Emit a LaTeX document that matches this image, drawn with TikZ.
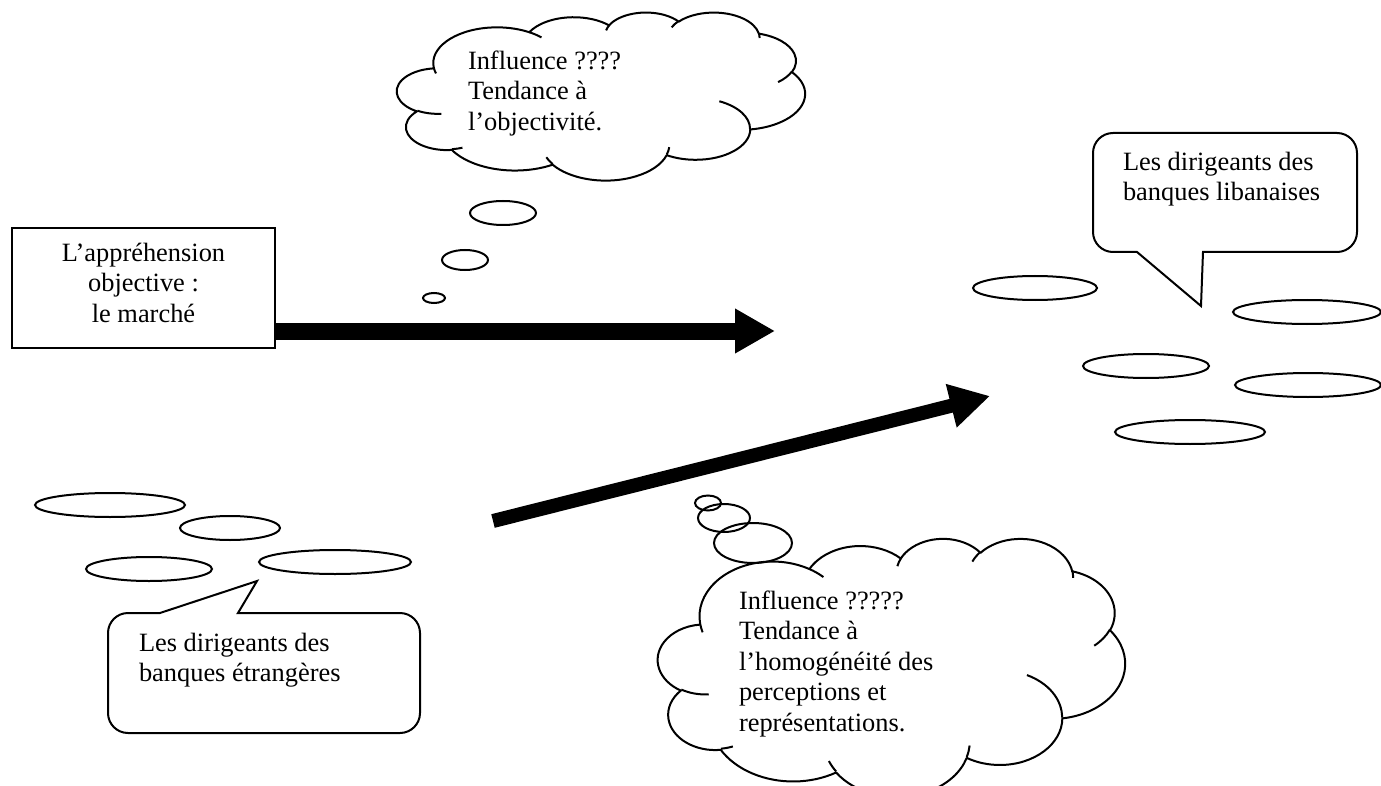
\documentclass[tikz,border=0pt]{standalone}
\usepackage{fontspec}
\setmainfont{Liberation Serif}
\usetikzlibrary{arrows.meta}

\tikzset{
  txt/.style={align=left,inner sep=0pt,anchor=north west},
  bigarrow/.style={line width=8.5pt,-{Triangle[length=20pt,width=21pt]}},
}

% cloud outline in a 43.2 x 43.2 frame, arcs given as (x radius, y radius, start, sweep)
\newcommand\cloudpath{%
  \draw[line join=round] (3.9,14.37)
    \foreach \a/\b/\s/\w [evaluate={\s as \ts using atan2(\a*sin(\s),\b*cos(\s))},
                          evaluate={\w as \te using atan2(\a*sin(\s+\w),\b*cos(\s+\w))},
                          evaluate={\w as \dt using mod(\te-\ts+720,360)}]
    in {6.753/9.19/-190.4875/123.7805, 5.333/7.267/-144.1024/89.9452,
        4.365/5.945/-145.8079/99.723, 4.857/6.595/-130.9861/117.2417,
        5.333/7.273/-78.7089/109.0269, 6.775/9.22/-46.2673/130.269,
        5.785/7.867/0.625/114.0333, 6.752/9.215/22.4516/115.1726,
        7.72/10.543/66.2426/75.711, 4.36/5.918/-274.9421/146.7356,
        4.345/5.945/-246.8285/152.5189}
    {arc[x radius=\a,y radius=\b,start angle=\ts,delta angle=\dt]} -- cycle;
  \foreach \x/\y/\a/\b/\s/\w [evaluate={\s as \ts using atan2(\a*sin(\s),\b*cos(\s))},
                              evaluate={\w as \te using atan2(\a*sin(\s+\w),\b*cos(\s+\w))},
                              evaluate={\w as \dt using mod(\te-\ts+720,360)}]
    in {4.693/26.177/4.345/5.945/86.742/26.4295, 6.928/34.899/4.36/5.918/73.6105/11.4475,
        16.478/39.09/6.752/9.215/137.6242/14.0811, 28.827/34.751/6.752/9.215/6.4533/15.9984,
        34.129/22.954/5.785/7.867/-70.2924/70.9174, 41.798/15.354/5.333/7.273/30.318/27.7515,
        38.324/5.426/4.857/6.595/-13.7443/14.8589, 29.078/3.952/4.857/6.595/-149.1815/18.1954,
        22.141/4.72/4.365/5.945/-163.4943/17.6864, 14/5.192/6.753/9.19/-66.707/12.3194,
        4.127/15.789/6.753/9.19/157.6544/11.8582}
    \draw (\x,\y) arc[x radius=\a,y radius=\b,start angle=\ts,delta angle=\dt];
}

\begin{document}
\begin{tikzpicture}[x=0.5pt,y=-0.5pt,line width=1pt,font=\fontsize{13.2}{15.2}\selectfont]
\useasboundingbox (0,0) rectangle (1381,786);

% the box and the first arrow
\node[draw,minimum width=131.5pt,minimum height=60pt] (marche) at (143.5,288) {};
\node[align=center,inner sep=0pt,anchor=north] (marchetext) at (143.5,242)
  {L’appréhension\\objective :\\le marché};
\coordinate (marcheout) at (marche.east |- 0,331);
\coordinate (tipone) at (775,331);
\draw[bigarrow] (marcheout) -- (tipone);

% second arrow
\coordinate (tailtwo) at (493,521);
\coordinate (tiptwo) at (990,396);
\draw[line width=7pt,-{Triangle[length=20pt,width=21pt]}] (tailtwo) -- (tiptwo);

% clouds
\begin{scope}[shift={(397,12)},x=4.7222pt,y=-1.9444pt]
  \cloudpath
\end{scope}
\node[txt] (objtext) at (467,50) {Influence ????\\Tendance à\\l’objectivité.};
\begin{scope}[shift={(658,538)},x=5.4051pt,y=-2.9861pt]
  \cloudpath
\end{scope}
\begin{scope}
  \clip (700,575) rectangle (1000,737);
  \node[txt] (homtext) at (738,590) {Influence ?????\\Tendance à\\l’homogénéité des\\perceptions et\\représentations.};
\end{scope}

% thought bubbles
\foreach \cx/\cy/\rx/\ry in {503/213/33/12,465/260/23/10,434/298/11/5,
                             708/503/13/7.5,724/518/26/14,753/543/39/20}
  \draw (\cx,\cy) ellipse [x radius=\rx,y radius=\ry];

% callouts
\draw (1201,306) -- (1203,252) [rounded corners=10pt] -- (1357,252) -- (1357,133)
  -- (1093,133) -- (1093,252) [sharp corners] -- (1137,252) -- cycle;
\node[txt] (libtext) at (1122,151) {Les dirigeants des\\banques libanaises};
\draw (257,581) -- (238,613) [rounded corners=10pt] -- (420,613) -- (420,733)
  -- (108,733) -- (108,613) [sharp corners] -- (160,613) -- cycle;
\node[txt] (etrtext) at (138,632) {Les dirigeants des\\banques étrangères};

% the flat ellipses
\foreach \cx/\cy/\rx in {1035/288/62,1307/312/74,1146/366/63,1308/385/73,1190/432/75,
                         110/505/75,230/528/50,149/569/63,335/562/76}
  \draw (\cx,\cy) ellipse [x radius=\rx,y radius=12];
\end{tikzpicture}
\end{document}
